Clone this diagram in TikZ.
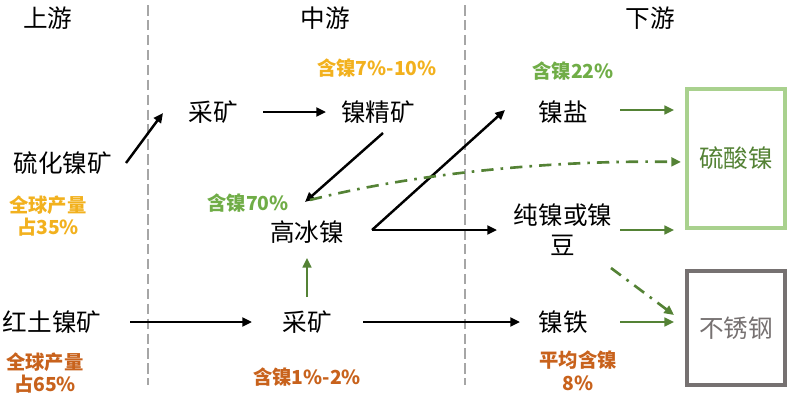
\documentclass[tikz,border=0pt]{standalone}
\usepackage{fontspec}
\newfontfamily\cjk{Noto Sans CJK SC}
\usetikzlibrary{positioning, calc, arrows.meta}

\definecolor{gold}{HTML}{F2B11E}
\definecolor{rust}{HTML}{C8621C}
\definecolor{leaf}{HTML}{70AD47}
\definecolor{arrowgreen}{HTML}{548235}
\definecolor{paleleaf}{HTML}{A9D18E}
\definecolor{boxgray}{HTML}{767171}
\definecolor{dividergray}{HTML}{A6A6A6}

\begin{document}
\begin{tikzpicture}[x=0.02cm, y=-0.02cm,
        every node/.style={font=\cjk},
        stage/.style={font=\cjk\fontsize{14}{16}\selectfont, inner sep=0pt},
        item/.style={font=\cjk\fontsize{14}{17}\selectfont, align=center, inner sep=0pt},
        note/.style={font=\cjk\bfseries\fontsize{11}{13}\selectfont, align=center, inner sep=0pt},
        endbox/.style={draw, line width=2.3pt, minimum width=1.96cm,
            font=\cjk\fontsize{14}{17}\selectfont},
        flow/.style={-{Triangle[length=5.5pt, width=5pt]}, line width=1.4pt},
        greenflow/.style={flow, draw=arrowgreen, line width=1.25pt},
        dashflow/.style={greenflow, line width=1.5pt, dash pattern=on 7pt off 4pt on 1.5pt off 4pt},
        divider/.style={draw=dividergray, line width=1.2pt, dash pattern=on 6pt off 2.5pt}
    ]
        \useasboundingbox (0,0) rectangle (791,403);

        % stages
        \node[stage] (up) at (48,18) {上游};
        \node[stage] (mid) at (325,18) {中游};
        \node[stage] (down) at (650,18) {下游};
        \draw[divider] (148,5) -- (148,385);
        \draw[divider] (465,5) -- (465,385);

        % upstream
        \node[item] (sulf) at (63,163) {硫化镍矿};
        \node[note, text=gold] (sulfshare) at (48,216) {全球产量\\占35\%};
        \node[item] (lat) at (52,322) {红土镍矿};
        \node[note, text=rust] (latshare) at (45,373) {全球产量\\占65\%};

        % midstream
        \node[item] (mineA) at (213,112) {采矿};
        \node[item] (conc) at (378,112) {镍精矿};
        \node[note, text=gold] (concpct) at (377,68) {含镍7\%-10\%};
        \node[item] (matte) at (307,232) {高冰镍};
        \node[note, text=leaf] (mattepct) at (248,203) {含镍70\%};
        \node[item] (mineB) at (307,322) {采矿};
        \node[note, text=rust] (minepct) at (307,377) {含镍1\%-2\%};

        % downstream
        \node[item] (salt) at (563,112) {镍盐};
        \node[note, text=leaf] (saltpct) at (573,71) {含镍22\%};
        \node[item] (pure) at (563,230) {纯镍或镍\\豆};
        \node[item] (feni) at (563,322) {镍铁};
        \node[note, text=rust] (fenipct) at (578,371) {平均含镍\\8\%};

        \node[endbox, draw=paleleaf, text=arrowgreen, minimum height=2.78cm] (nis) at (736,158.5) {硫酸镍};
        \node[endbox, draw=boxgray, text=boxgray, minimum height=2.28cm] (ss) at (736,328) {不锈钢};

        % flows
        \draw[flow] ($(sulf)+(63,0)$) -- ($(mineA)+(-50,1)$);
        \draw[flow] ($(mineA)+(50,0)$) -- ($(conc)+(-52,0)$);
        \draw[flow] ($(conc)+(5,21)$) -- ($(matte)+(-2,-30)$);
        \draw[flow] ($(matte)+(65,-2)$) -- ($(salt)+(-58,-2)$);
        \draw[flow] ($(matte)+(65,-2)$) -- ($(pure)+(-66,0)$);
        \draw[flow] ($(lat)+(78,0)$) -- ($(mineB)+(-55,0)$);
        \draw[flow] ($(mineB)+(56,0)$) -- ($(feni)+(-43,0)$);
        \draw[greenflow] ($(mineB)+(0,-25)$) -- ($(matte)+(0,26)$);

        \draw[greenflow] ($(salt)+(57,-2)$) -- ($(nis.west |- salt)+(-11,-2)$);
        \draw[greenflow] ($(pure)+(57,0)$) -- ($(nis.west |- pure)+(-11,0)$);
        \draw[greenflow] ($(feni)+(57,0)$) -- ($(ss.west |- feni)+(-11,0)$);
        \draw[dashflow] ($(pure)+(48,38)$) -- ($(ss.west)+(-11,-13)$);
        \draw[dashflow] ($(matte)+(3,-32)$) .. controls +(110,-28) and +(-121,-2) .. ($(nis.west)+(-4,3.5)$);
    \end{tikzpicture}
\end{document}
